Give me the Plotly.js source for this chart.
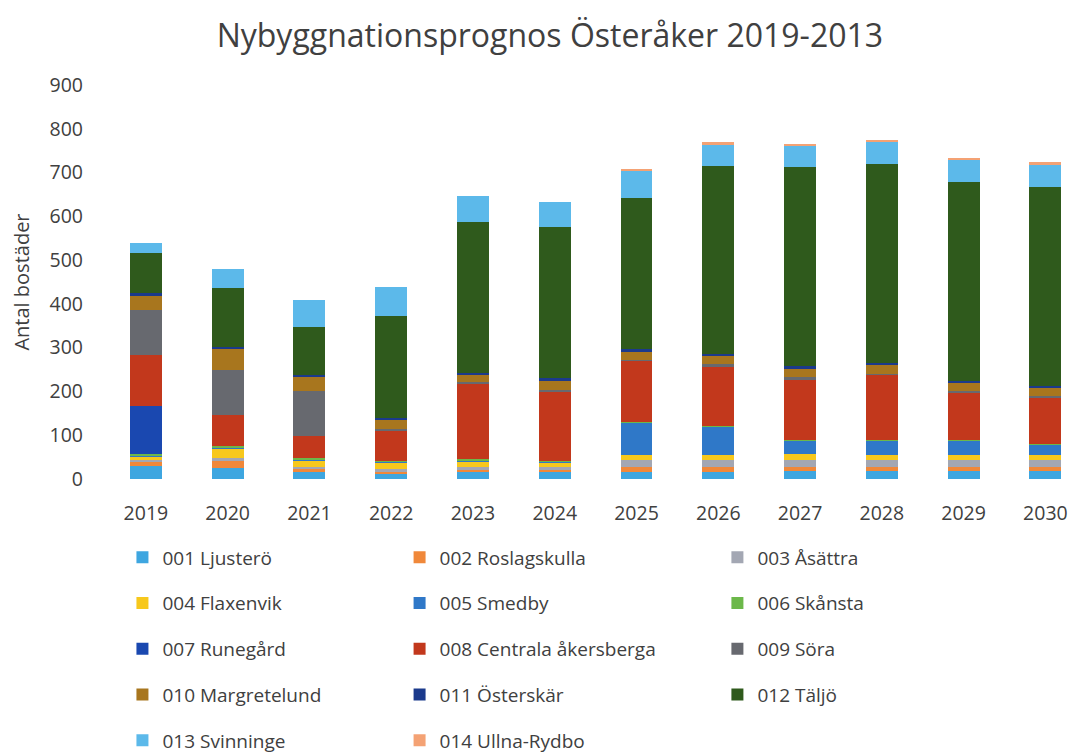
<!DOCTYPE html>
<html>
<head>
<meta charset="utf-8">
<script src="https://cdn.plot.ly/plotly-3.0.1.min.js"></script>
<style>html,body{margin:0;padding:0;background:#fff;}#chart{width:1074px;height:755px;}</style>
</head>
<body>
<div id="chart"></div>
<script>
const years = ['2019','2020','2021','2022','2023','2024','2025','2026','2027','2028','2029','2030'];

const seriesNames = ['001 Ljusterö','002 Roslagskulla','003 Åsättra','004 Flaxenvik','005 Smedby','006 Skånsta','007 Runegård','008 Centrala åkersberga','009 Söra','010 Margretelund','011 Österskär','012 Täljö','013 Svinninge','014 Ullna-Rydbo'];

const s001 = [30, 25, 18, 12, 18, 18, 17, 17, 18, 18, 18, 18];
const s002 = [10, 18, 4, 3, 3, 3, 11, 11, 10, 10, 10, 10];
const s003 = [3, 4, 5, 8, 6, 6, 15, 15, 15, 15, 15, 15];
const s004 = [8, 22, 16, 14, 14, 10, 12, 12, 13, 12, 12, 12];
const s005 = [3, 3, 2, 2, 2, 2, 74, 64, 32, 34, 34, 24];
const s006 = [3, 3, 2, 2, 2, 2, 1, 1, 1, 1, 1, 1];
const s007 = [110, 0, 0, 0, 0, 0, 0, 0, 0, 0, 0, 0];
const s008 = [116, 72, 52, 70, 172, 159, 140, 138, 139, 148, 108, 107];
const s009 = [103, 101, 102, 3, 4, 3, 2, 4, 4, 3, 3, 3];
const s010 = [34, 48, 32, 22, 16, 22, 20, 18, 20, 20, 20, 19];
const s011 = [4, 6, 4, 4, 6, 5, 4, 6, 5, 4, 4, 4];
const s012 = [93, 134, 110, 232, 345, 345, 347, 428, 456, 454, 453, 454];
const s013 = [23, 44, 63, 66, 58, 58, 61, 50, 48, 50, 51, 51];
const s014 = [0, 0, 0, 0, 0, 0, 3, 5, 5, 6, 5, 5];

const allSeries = [s001,s002,s003,s004,s005,s006,s007,s008,s009,s010,s011,s012,s013,s014];
const colors = ['#3ea6e0','#f0883a','#a3a7b3','#f7c81c','#2f78c8','#6cb84a','#1a48b0','#c2381c','#67696f','#a8761e','#1b3a8c','#2f5a1c','#5cb9ea','#f4a274'];
const legendIds = ['legend','legend2','legend3'];

const traces = allSeries.map((vals, i) => ({
  type: 'bar',
  name: seriesNames[i],
  x: years,
  y: vals,
  marker: {color: colors[i], line: {width: 0}},
  legend: legendIds[i % 3],
  legendgroup: 'g' + i,
  hoverinfo: 'name+y'
}));

const legFont = {family: 'Open Sans, sans-serif', size: 19, color: '#404040'};
const legBase = {
  orientation: 'v', yanchor: 'top', xanchor: 'left',
  font: legFont, bgcolor: 'rgba(0,0,0,0)',
  traceorder: 'grouped', tracegroupgap: 18,
  itemwidth: 30
};

const layout = {
  width: 1074, height: 755,
  margin: {l: 105, r: 0, t: 85, b: 276, autoexpand: false},
  paper_bgcolor: '#ffffff', plot_bgcolor: '#ffffff',
  barmode: 'stack',
  bargap: 0.61,
  title: {text: 'Nybyggnationsprognos Österåker 2019-2013', x: 0.512, xanchor: 'center', y: 0.953, yanchor: 'middle',
          font: {family: 'Open Sans, sans-serif', size: 32, color: '#404040'}},
  font: {family: 'Open Sans, sans-serif', color: '#404040'},
  xaxis: {
    type: 'category', range: [-0.5, 11.35],
    showgrid: false, zeroline: false, showline: false, ticks: '',
    tickfont: {family: 'Open Sans, sans-serif', size: 19.5, color: '#404040'},
    ticklabelstandoff: 20
  },
  yaxis: {
    range: [0, 900], dtick: 100,
    showgrid: false, zeroline: false, showline: false, ticks: '',
    tickfont: {family: 'Open Sans, sans-serif', size: 19.5, color: '#404040'},
    ticklabelstandoff: 21,
    title: {text: 'Antal bostäder', standoff: 14, font: {family: 'Open Sans, sans-serif', size: 20, color: '#404040'}}
  },
  showlegend: true,
  legend: Object.assign({}, legBase, {x: 0.018, y: -0.151}),
  legend2: Object.assign({}, legBase, {x: 0.304, y: -0.151}),
  legend3: Object.assign({}, legBase, {x: 0.632, y: -0.151})
};

Plotly.newPlot('chart', traces, layout, {displayModeBar: false, responsive: false});
</script>
</body>
</html>
